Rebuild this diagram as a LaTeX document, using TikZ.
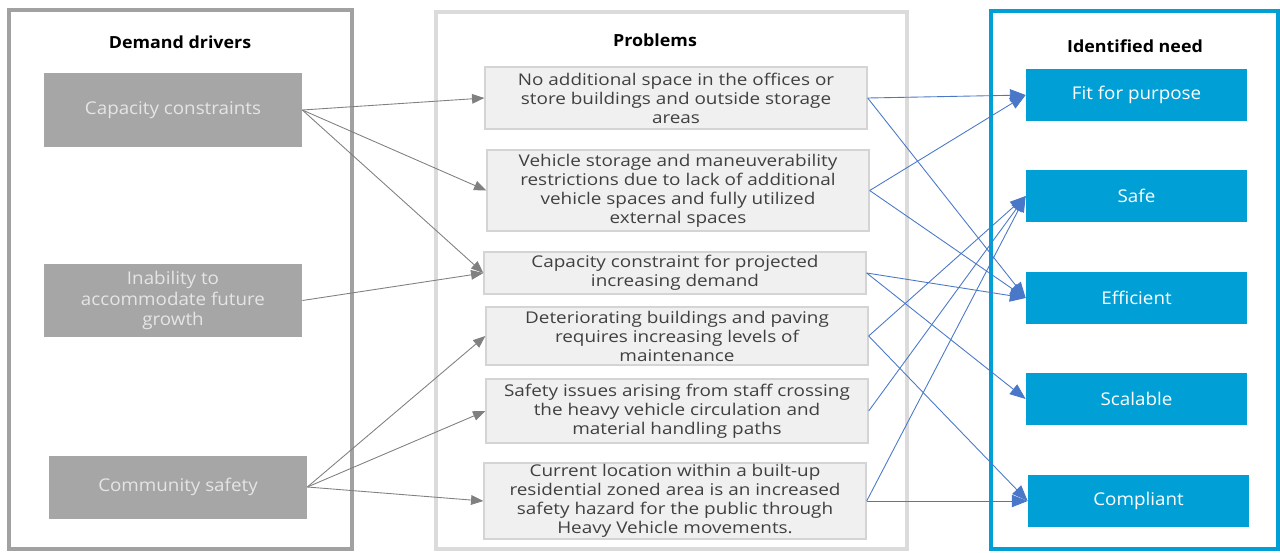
\documentclass[tikz,border=0pt]{standalone}
\usepackage{fontspec}
\setmainfont{Open Sans}[FakeStretch=1.07]
\newfontfamily\probfont{Open Sans}[FakeStretch=1.17]
\usetikzlibrary{arrows.meta}

\definecolor{drvgray}{HTML}{A6A6A6}
\definecolor{probfill}{HTML}{F0F0F0}
\definecolor{probline}{HTML}{D4D4D4}
\definecolor{needblue}{HTML}{00A0D6}
\definecolor{linkblue}{HTML}{4A78C8}

\tikzset{
  panel/.style={line width=2pt},
  heading/.style={font=\bfseries\fontsize{9.5}{11}\selectfont, text=black},
  driver/.style={fill=drvgray, text=white!90!black, minimum width=5.16cm,
    align=center, inner sep=0pt, font=\fontsize{10}{11.5}\selectfont},
  problem/.style={fill=probfill, draw=probline, line width=0.8pt, text=black!75,
    minimum width=7.64cm, align=center, inner sep=0pt,
    font=\probfont\fontsize{9.2}{10.8}\selectfont},
  need/.style={fill=needblue, text=white, minimum width=4.42cm,
    minimum height=1.04cm, font=\fontsize{10}{12}\selectfont},
  cause/.style={draw=black!50, line width=0.5pt, -{Triangle[length=7pt,width=5.5pt]}},
  effect/.style={draw=linkblue, line width=0.5pt, -{Triangle[length=9pt,width=7pt]}}
}

\begin{document}
\begin{tikzpicture}[x=0.02cm, y=-0.02cm]
  \useasboundingbox (0,0) rectangle (1280,552);

  % the three columns
  \draw [panel, draw=black!37] (9,10) rectangle (352,549);
  \draw [panel, draw=black!14] (436,12) rectangle (907,549);
  \draw [panel, draw=needblue] (991,11) rectangle (1278,549);

  \node [heading] (hdrv) at (180,42) {Demand drivers};
  \node [heading] (hprob) at (655,40) {Problems};
  \node [heading] (hneed) at (1135,46) {Identified need};

  % demand drivers
  \node [driver, minimum height=1.48cm] (cap) at (173,110) {Capacity constraints};
  \node [driver, minimum height=1.46cm] (grow) at (173,300.5) {Inability to\\accommodate future\\growth};
  \node [driver, minimum height=1.26cm] (comm) at (178,487) {Community safety};

  % problems
  \node [problem, minimum height=1.24cm] (space) at (676,98)
    {No additional space in the offices or\\store buildings and outside storage\\areas};
  \node [problem, minimum height=1.62cm] (vstore) at (678,190.5)
    {Vehicle storage and maneuverability\\restrictions due to lack of additional\\vehicle spaces and fully utilized\\external spaces};
  \node [problem, minimum height=0.84cm] (demand) at (675,273)
    {Capacity constraint for projected\\increasing demand};
  \node [problem, minimum height=1.16cm] (deter) at (677,336)
    {Deteriorating buildings and paving\\requires increasing levels of\\maintenance};
  \node [problem, minimum height=1.28cm] (staff) at (677,411)
    {Safety issues arising from staff crossing\\the heavy vehicle circulation and\\material handling paths};
  \node [problem, minimum height=1.52cm] (resid) at (675,501)
    {Current location within a built-up\\residential zoned area is an increased\\safety hazard for the public through\\Heavy Vehicle movements.};

  % identified needs
  \node [need] (fit) at (1136.5,95) {Fit for purpose};
  \node [need] (safe) at (1136.5,196) {Safe};
  \node [need] (eff) at (1136.5,298) {Efficient};
  \node [need] (scale) at (1136.5,399) {Scalable};
  \node [need] (comp) at (1138.5,501) {Compliant};

  % drivers -> problems
  \draw [cause] (cap.east) -- (space.west);
  \draw [cause] (cap.east) -- (vstore.west);
  \draw [cause] (cap.east) -- (demand.west);
  \draw [cause] (grow.east) -- (demand.west);
  \draw [cause] (comm.east) -- (deter.west);
  \draw [cause] (comm.east) -- (staff.west);
  \draw [cause] (comm.east) -- (resid.west);

  % problems -> needs
  \draw [effect] (space.east) -- (fit.west);
  \draw [effect] (space.east) -- (eff.west);
  \draw [effect] (vstore.east) -- (fit.west);
  \draw [effect] (vstore.east) -- (eff.west);
  \draw [effect] (demand.east) -- (eff.west);
  \draw [effect] (demand.east) -- (scale.west);
  \draw [effect] (deter.east) -- (safe.west);
  \draw [effect] (deter.east) -- (comp.west);
  \draw [effect] (staff.east) -- (safe.west);
  \draw [effect] (resid.east) -- (safe.west);
  \draw [effect] (resid.east) -- (comp.west);
\end{tikzpicture}
\end{document}
